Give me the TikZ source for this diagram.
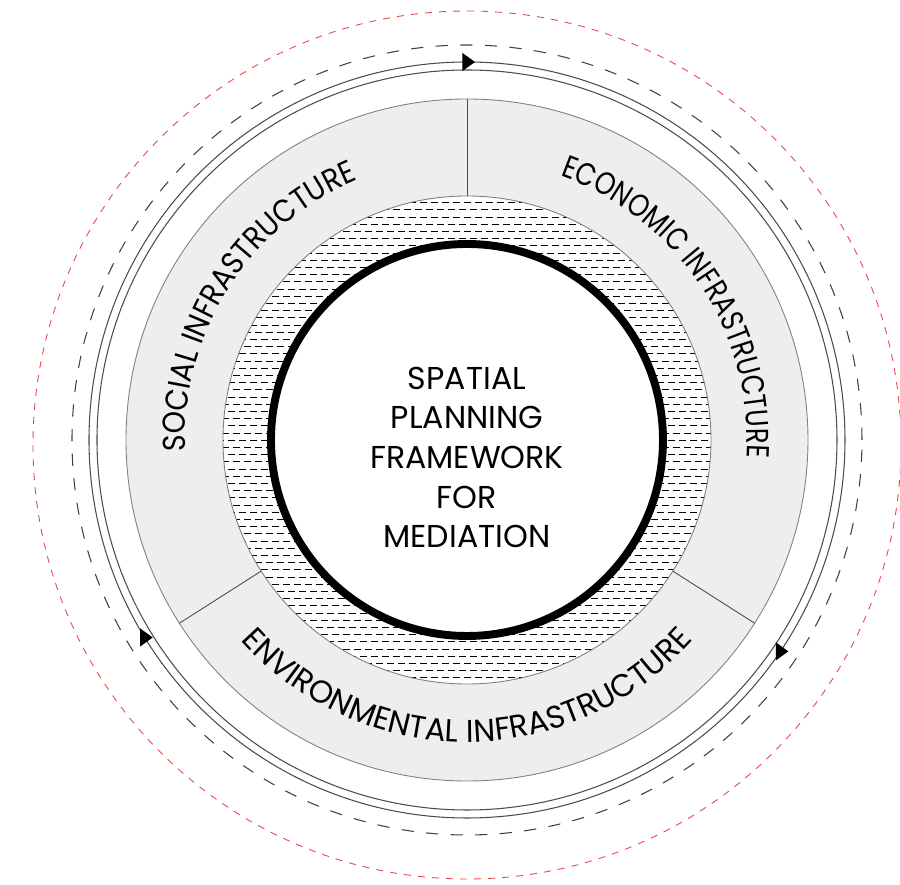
\documentclass[tikz,border=0pt]{standalone}
\usepackage{fontspec}
\setmainfont{Poppins}
\newfontfamily\socface{Poppins}[FakeStretch=0.9]
\newfontfamily\econface{Poppins}[FakeStretch=0.82]
\newfontfamily\envface{Poppins}[FakeStretch=0.98]
\usetikzlibrary{positioning}
\usetikzlibrary{decorations.text}

\definecolor{ringgray}{HTML}{EEEEEE}
\definecolor{linegray}{HTML}{808080}
\definecolor{reddash}{HTML}{E8474A}
\newcommand\ringsize{\fontsize{18}{18}\selectfont}

\tikzset{
  ringline/.style={draw=linegray, line width=0.5pt},
  orbit/.style={draw=black!70, line width=0.6pt},
  hatchrow/.style={line width=0.55pt, dash pattern=on 0.14cm off 0.08cm},
  ringlabel/.style={decorate, decoration={text along path, text align=center, text={#1}}},
}

\begin{document}
\begin{tikzpicture}
\useasboundingbox (-9.34,-8.90) rectangle (8.66,8.80);

% dashed outer rings
\draw[reddash, line width=0.5pt, dash pattern=on 4pt off 4pt] (0,-0.1) circle (8.68);
\draw[black!75, line width=0.6pt, dash pattern=on 7pt off 7pt] (0,0) circle (7.9);

% double orbit
\draw[orbit] (0,0) circle (7.56);
\draw[orbit] (0,0) circle (7.40);

% grey ring
\fill[ringgray] (0,0) circle (6.82);
\draw[ringline] (0,0) circle (6.82);

% hatched ring
\fill[white] (0,0) circle (4.88);
\begin{scope}
\clip (0,0) circle (4.88);
\foreach \i in {0,...,68} {
  \pgfmathsetmacro\ph{mod(\i,2)*0.11}
  \draw[hatchrow, dash phase=\ph cm] (-5,-4.9+\i*0.144) -- (5,-4.9+\i*0.144);
}
\end{scope}
\draw[ringline] (0,0) circle (4.88);

% dividers
\foreach \a in {90,212.5,327.5}
  \draw[black!70, line width=0.5pt] (\a:4.88) -- (\a:6.82);

% core
\draw[line width=4.5pt, fill=white] (0,0) circle (3.92);

\node (title) at (0,-0.35) [align=center, font=\fontsize{18}{22.6}\selectfont]
{SPATIAL\\ PLANNING\\ FRAMEWORK\\ FOR\\ MEDIATION};

% ring labels
\path[ringlabel={|\socface\ringsize|SOCIAL INFRASTRUCTURE}]
  (202.5:5.64) arc[start angle=202.5, end angle=92.5, radius=5.64];
\path[ringlabel={|\econface\ringsize|ECONOMIC INFRASTRUCTURE}]
  (87:5.60) arc[start angle=87, end angle=-20, radius=5.60];
\path[ringlabel={|\envface\ringsize|ENVIRONMENTAL INFRASTRUCTURE}]
  (200:6.04) arc[start angle=200, end angle=340, radius=6.04];

% markers on the orbit
\coordinate (arrtop) at (90:7.56);
\coordinate (arrleft) at (211.5:7.56);
\coordinate (arrright) at (-34:7.56);
\foreach \c in {arrtop,arrleft,arrright}
  \fill (\c) ++(-0.09,0.18) -- ++(0.25,-0.18) -- ++(-0.25,-0.18) -- cycle;

\end{tikzpicture}
\end{document}
